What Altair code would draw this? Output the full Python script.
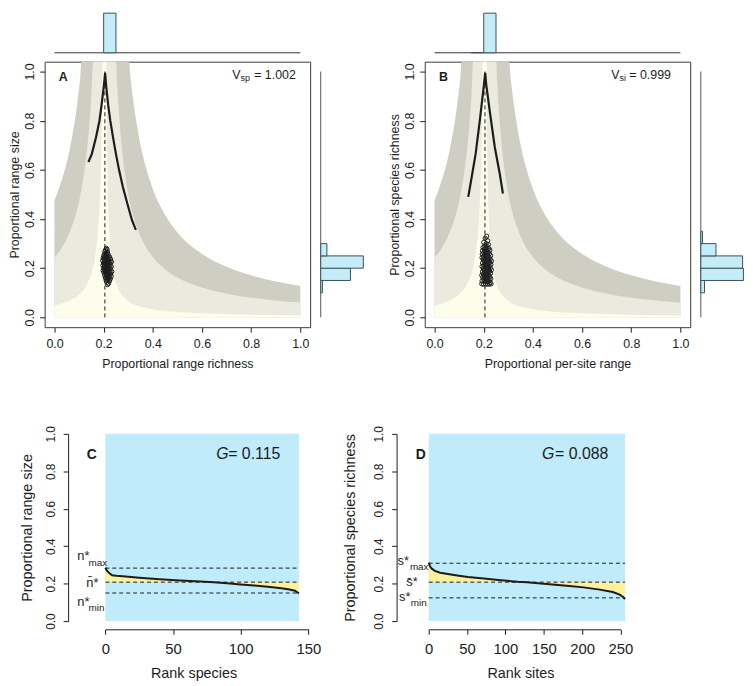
import altair as alt
import pandas as pd

FONT = "Liberation Sans"
INK = "#1c1c1c"
BOX = "#3a3a3a"
DARK_BAND = "#CECEC3"
LIGHT_BAND = "#EAEADE"
PALE_BAND = "#FDFDEC"
HIST_FILL = "#C4ECF9"
HIST_LINE = "#3C5157"
BLUE_BG = "#BFEBFA"
YELLOW = "#FBF09C"

# ---------------- data ----------------
# Panels A/B: upper edge of each shaded band (1.04 = top of the box)
outer_x = [0.0, 0.02, 0.04, 0.06, 0.08, 0.09, 0.10, 0.105, 0.109, 0.20, 0.303, 0.31, 0.32, 0.335, 0.35, 0.375, 0.40, 0.45, 0.50, 0.60, 0.70, 0.80, 0.90, 1.0]
outer_y = [0.477, 0.529, 0.593, 0.674, 0.782, 0.850, 0.931, 0.978, 1.04, 1.04, 1.04, 0.970, 0.885, 0.783, 0.702, 0.599, 0.522, 0.416, 0.345, 0.258, 0.206, 0.171, 0.146, 0.128]
middle_x = [0.0, 0.03, 0.06, 0.09, 0.11, 0.12, 0.13, 0.14, 0.15, 0.157, 0.20, 0.251, 0.255, 0.26, 0.27, 0.28, 0.30, 0.325, 0.35, 0.40, 0.45, 0.50, 0.60, 0.70, 0.80, 0.90, 1.0]
middle_y = [0.242, 0.283, 0.342, 0.431, 0.522, 0.584, 0.661, 0.763, 0.902, 1.04, 1.04, 1.04, 0.954, 0.867, 0.734, 0.636, 0.502, 0.398, 0.329, 0.245, 0.195, 0.162, 0.121, 0.096, 0.080, 0.069, 0.060]
inner_x = [0.0, 0.05, 0.10, 0.13, 0.15, 0.165, 0.175, 0.183, 0.19, 0.1945, 0.1955, 0.211, 0.2125, 0.215, 0.22, 0.23, 0.24, 0.26, 0.30, 0.35, 0.40, 0.50, 0.60, 0.80, 1.0]
inner_y = [0.048, 0.0635, 0.094, 0.131, 0.179, 0.246, 0.328, 0.447, 0.656, 0.937, 1.04, 1.04, 0.853, 0.640, 0.427, 0.256, 0.183, 0.116, 0.067, 0.044, 0.033, 0.0217, 0.0162, 0.0108, 0.008]

# Panel A
meanA = 0.205
curveA_x = [0.138, 0.152, 0.169, 0.183, 0.192, 0.200, 0.206, 0.211, 0.218, 0.227, 0.238, 0.250, 0.263, 0.278, 0.296, 0.315, 0.331]
curveA_y = [0.632, 0.665, 0.733, 0.800, 0.867, 0.934, 0.995, 0.934, 0.867, 0.800, 0.733, 0.665, 0.598, 0.531, 0.464, 0.396, 0.356]
ptsA = [(0.211, 0.281), (0.214, 0.276), (0.208, 0.274),
        (0.205, 0.268), (0.216, 0.266), (0.211, 0.263),
        (0.203, 0.258), (0.213, 0.257), (0.219, 0.255), (0.208, 0.254),
        (0.200, 0.250), (0.210, 0.249), (0.217, 0.247), (0.224, 0.246), (0.205, 0.245),
        (0.198, 0.241), (0.207, 0.240), (0.214, 0.239), (0.221, 0.238), (0.228, 0.237), (0.202, 0.236),
        (0.196, 0.231), (0.204, 0.230), (0.211, 0.229), (0.219, 0.228), (0.226, 0.227), (0.232, 0.226), (0.209, 0.225),
        (0.199, 0.221), (0.206, 0.220), (0.213, 0.219), (0.220, 0.218), (0.227, 0.217), (0.202, 0.216), (0.216, 0.215),
        (0.197, 0.211), (0.204, 0.210), (0.211, 0.209), (0.218, 0.208), (0.225, 0.207), (0.231, 0.206), (0.208, 0.205),
        (0.200, 0.201), (0.207, 0.200), (0.214, 0.199), (0.221, 0.198), (0.228, 0.197), (0.203, 0.196), (0.217, 0.195),
        (0.198, 0.191), (0.205, 0.190), (0.212, 0.189), (0.219, 0.188), (0.226, 0.187), (0.233, 0.186), (0.209, 0.185),
        (0.201, 0.181), (0.208, 0.180), (0.215, 0.179), (0.222, 0.178), (0.229, 0.177), (0.212, 0.175),
        (0.204, 0.171), (0.211, 0.170), (0.218, 0.169), (0.225, 0.168), (0.231, 0.166),
        (0.207, 0.161), (0.214, 0.160), (0.221, 0.158), (0.227, 0.156),
        (0.210, 0.151), (0.217, 0.150), (0.224, 0.148),
        (0.213, 0.142), (0.220, 0.138), (0.216, 0.133)]
topA_lo, topA_hi, topA_n = [0.20], [0.25], [143]
rightA_lo = [0.10, 0.15, 0.20, 0.25]
rightA_hi = [0.15, 0.20, 0.25, 0.30]
rightA_n = [3, 53, 76, 11]

# Panel B
meanB = 0.205
curveB_x = [0.137, 0.150, 0.167, 0.184, 0.198, 0.206, 0.210, 0.225, 0.245, 0.265, 0.278]
curveB_y = [0.490, 0.565, 0.665, 0.800, 0.921, 0.995, 0.948, 0.835, 0.692, 0.585, 0.504]
ptsB = [(0.212, 0.330), (0.206, 0.322), (0.216, 0.312), (0.200, 0.305), (0.210, 0.300), (0.219, 0.296), (0.204, 0.291), (0.214, 0.288),
        (0.197, 0.284), (0.208, 0.282), (0.221, 0.280), (0.202, 0.277), (0.214, 0.275), (0.225, 0.273), (0.195, 0.271),
        (0.206, 0.268), (0.217, 0.266), (0.200, 0.263), (0.211, 0.261), (0.223, 0.259), (0.194, 0.257), (0.205, 0.255), (0.216, 0.253), (0.228, 0.251),
        (0.199, 0.249), (0.210, 0.247), (0.221, 0.245), (0.193, 0.243), (0.204, 0.241), (0.215, 0.239), (0.226, 0.237), (0.198, 0.235), (0.209, 0.233), (0.220, 0.231),
        (0.231, 0.229), (0.203, 0.227), (0.214, 0.225), (0.225, 0.223), (0.195, 0.221), (0.207, 0.219), (0.218, 0.217), (0.229, 0.215), (0.200, 0.213), (0.211, 0.211),
        (0.222, 0.209), (0.193, 0.207), (0.205, 0.205), (0.216, 0.203), (0.227, 0.201), (0.198, 0.199), (0.209, 0.197), (0.220, 0.195), (0.231, 0.193), (0.202, 0.191),
        (0.213, 0.189), (0.224, 0.187), (0.195, 0.185), (0.206, 0.183), (0.217, 0.181), (0.228, 0.179), (0.199, 0.177), (0.210, 0.175), (0.221, 0.173), (0.192, 0.171),
        (0.203, 0.169), (0.214, 0.167), (0.225, 0.165), (0.196, 0.163), (0.207, 0.161), (0.218, 0.159), (0.229, 0.157), (0.200, 0.155), (0.211, 0.153), (0.222, 0.151),
        (0.193, 0.148), (0.204, 0.146), (0.215, 0.144), (0.226, 0.142), (0.192, 0.136), (0.199, 0.135), (0.207, 0.135), (0.215, 0.135), (0.223, 0.135), (0.230, 0.136)]
topB_lo, topB_hi, topB_n = [0.15, 0.20], [0.20, 0.25], [2, 254]
rightB_lo = [0.10, 0.15, 0.20, 0.25, 0.30]
rightB_hi = [0.15, 0.20, 0.25, 0.30, 0.35]
rightB_n = [9, 104, 102, 37, 4]

# Panel C
rank_c = [0, 1, 3, 5, 8, 15, 25, 40, 55, 70, 80, 90, 100, 110, 120, 130, 135, 140, 143]
val_c = [0.285, 0.270, 0.255, 0.245, 0.242, 0.238, 0.232, 0.224, 0.217, 0.211, 0.207, 0.202, 0.196, 0.190, 0.183, 0.175, 0.170, 0.162, 0.148]
n_species = 143
nstar = [0.283, 0.208, 0.150]   # max, mean, min
G_c = "= 0.115"

# Panel D
rank_d = [0, 2, 4, 8, 15, 21, 35, 51, 72, 94, 116, 128, 150, 180, 202, 223, 240, 249, 253, 256]
val_d = [0.312, 0.290, 0.280, 0.268, 0.258, 0.254, 0.245, 0.236, 0.227, 0.218, 0.210, 0.207, 0.199, 0.189, 0.180, 0.168, 0.155, 0.141, 0.130, 0.118]
n_sites = 256
sstar = [0.309, 0.208, 0.124]
G_d = "= 0.088"

TICKS01 = [0.0, 0.2, 0.4, 0.6, 0.8, 1.0]

# ---------------- layout (pixels) ----------------
SIDE = 268
DOM = [-0.04, 1.04]
COL_GAP = 115.7
ROW_GAP = 107.7
CD_H = 189
C_RANGE = [61.3, 266.3]     # x = 0 .. 150 inside the C cell
D_RANGE = [4.0, 197.6]      # x = 0 .. 250 inside the D cell
TOP_GAP, TOP_LEN = 9, 40
RIGHT_GAP, RIGHT_LEN = 10.7, 43


def note(text, x, y, size, align="left", weight="normal", style="normal", baseline="alphabetic"):
    return alt.Chart(pd.DataFrame({"t": [text]})).mark_text(
        align=align, baseline=baseline, fontSize=size, fontWeight=weight,
        fontStyle=style, font=FONT, color=INK
    ).encode(x=alt.value(x), y=alt.value(y), text="t:N")


def ab_panel(curve_x, curve_y, pts, mean_x, xtitle, ytitle, notes,
             top_lo, top_hi, top_n, r_lo, r_hi, r_n):
    sx = alt.Scale(domain=DOM, nice=False, zero=False)
    sy = alt.Scale(domain=DOM, nice=False, zero=False)
    ax = alt.Axis(values=TICKS01, format=".1f", title=xtitle, tickSize=5,
                  labelPadding=5.5, titlePadding=8, labelFontSize=12.5,
                  titleFontSize=12.5, domain=False, labelFlush=False)
    ay = alt.Axis(values=TICKS01, format=".1f", title=ytitle, tickSize=5,
                  labelPadding=3, titlePadding=2, labelFontSize=12.5,
                  titleFontSize=12.5, labelAngle=-90, labelAlign="center",
                  labelBaseline="bottom", domain=False, labelFlush=False)

    def X(f):
        return alt.X(f, type="quantitative", scale=sx, axis=ax)

    def Y(f):
        return alt.Y(f, type="quantitative", scale=sy, axis=ay)

    def band(xv, yv, color):
        return alt.Chart(pd.DataFrame({"x": xv, "y": yv})).mark_area(
            color=color, interpolate="monotone").encode(x=X("x"), y=Y("y"), y2=alt.datum(0))

    vline = alt.Chart(pd.DataFrame({"x": [mean_x], "y0": [0.0], "y1": [1.0]})).mark_rule(
        color=INK, strokeDash=[4, 3], strokeWidth=1).encode(x=X("x"), y=Y("y0"), y2="y1")
    curve = alt.Chart(pd.DataFrame({"x": curve_x, "y": curve_y})).mark_line(
        color=INK, strokeWidth=2.2).encode(x=X("x"), y=Y("y"))
    points = alt.Chart(pd.DataFrame(pts, columns=["x", "y"])).mark_point(
        shape="circle", filled=False, color=INK, size=18, strokeWidth=1, opacity=1
    ).encode(x=X("x"), y=Y("y"))
    main = alt.layer(band(outer_x, outer_y, DARK_BAND), band(middle_x, middle_y, LIGHT_BAND),
                     band(inner_x, inner_y, PALE_BAND), vline, curve, points, *notes)

    # top marginal histogram (own count scale placed above the box)
    M = max(top_n)
    ty = alt.Scale(domain=[-(SIDE + TOP_GAP) * M / TOP_LEN, -TOP_GAP * M / TOP_LEN], nice=False, zero=False)
    tx = alt.Scale(domain=DOM, nice=False, zero=False)
    tbase = alt.Chart(pd.DataFrame({"a": [0.0], "b": [1.0], "c": [0]})).mark_rule(
        color="#333333", strokeWidth=1).encode(
        x=alt.X("a:Q", scale=tx, axis=None), x2="b", y=alt.Y("c:Q", scale=ty, axis=None))
    tbars = alt.Chart(pd.DataFrame({"lo": top_lo, "hi": top_hi, "n": top_n})).mark_rect(
        fill=HIST_FILL, stroke=HIST_LINE, strokeWidth=1).encode(
        x=alt.X("lo:Q", scale=tx, axis=None), x2="hi",
        y=alt.Y("n:Q", scale=ty, axis=None), y2=alt.datum(0))
    top = alt.layer(tbase, tbars)

    # right marginal histogram
    R = max(r_n)
    p0 = SIDE + RIGHT_GAP
    rx = alt.Scale(domain=[-p0 * R / RIGHT_LEN, (SIDE - p0) * R / RIGHT_LEN], nice=False, zero=False)
    ry = alt.Scale(domain=DOM, nice=False, zero=False)
    rbase = alt.Chart(pd.DataFrame({"a": [0.0], "b": [1.0], "c": [0]})).mark_rule(
        color="#555555", strokeWidth=1).encode(
        y=alt.Y("a:Q", scale=ry, axis=None), y2="b", x=alt.X("c:Q", scale=rx, axis=None))
    rbars = alt.Chart(pd.DataFrame({"lo": r_lo, "hi": r_hi, "n": r_n})).mark_rect(
        fill=HIST_FILL, stroke=HIST_LINE, strokeWidth=1).encode(
        y=alt.Y("lo:Q", scale=ry, axis=None), y2="hi",
        x=alt.X("n:Q", scale=rx, axis=None), x2=alt.datum(0))
    right = alt.layer(rbase, rbars)

    return alt.layer(main, top, right).resolve_scale(
        x="independent", y="independent").properties(
        width=SIDE, height=SIDE, view=alt.ViewBackground(stroke=BOX, strokeWidth=1))


def rank_panel(rank, val, n_units, stars, xmax, xticks, xrange, xtitle, ytitle,
               yoff, ytp, title_x, notes):
    sx = alt.Scale(domain=[0, xmax], range=xrange, nice=False, zero=False)
    sy = alt.Scale(domain=[0, 1], nice=False, zero=False)
    ax = alt.Axis(values=xticks, format="d", title=xtitle, tickSize=5, labelPadding=7.5,
                  titlePadding=10, labelFontSize=15, titleFontSize=14.5, offset=8.3,
                  titleX=title_x, labelFlush=False)
    ay = alt.Axis(values=TICKS01, format=".1f", title=ytitle, tickSize=5, labelPadding=6,
                  titlePadding=ytp, labelFontSize=12, titleFontSize=14.5, offset=yoff,
                  labelAngle=-90, labelAlign="center", labelBaseline="bottom",
                  labelFlush=False)

    def X(f):
        return alt.X(f, type="quantitative", scale=sx, axis=ax)

    def Y(f):
        return alt.Y(f, type="quantitative", scale=sy, axis=ay)

    bg = alt.Chart(pd.DataFrame({"x0": [0], "x1": [n_units], "y0": [0.0], "y1": [1.0]})).mark_rect(
        fill=BLUE_BG).encode(x=X("x0"), x2="x1", y=Y("y0"), y2="y1")
    df = pd.DataFrame({"r": rank, "v": val})
    fill = alt.Chart(df).mark_area(color=YELLOW).encode(x=X("r"), y=Y("v"), y2=alt.datum(stars[1]))
    rules = alt.Chart(pd.DataFrame({"y": stars, "x0": [0] * 3, "x1": [n_units] * 3})).mark_rule(
        color=INK, strokeDash=[4, 3], strokeWidth=1).encode(x=X("x0"), x2="x1", y=Y("y"))
    line = alt.Chart(df).mark_line(color=INK, strokeWidth=2).encode(x=X("r"), y=Y("v"))
    return alt.layer(bg, fill, rules, line, *notes).properties(width=SIDE, height=CD_H)


A = ab_panel(curveA_x, curveA_y, ptsA, meanA,
             "Proportional range richness", "Proportional range size",
             [note("A", 14.3, 19, 12.5, weight="bold"),
              note("V", 189.3, 17, 12.5), note("sp", 197.7, 19.5, 9),
              note("= 1.002", 211.5, 17, 12.5)],
             topA_lo, topA_hi, topA_n, rightA_lo, rightA_hi, rightA_n)

B = ab_panel(curveB_x, curveB_y, ptsB, meanB,
             "Proportional per-site range", "Proportional species richness",
             [note("B", 14.3, 19, 12.5, weight="bold"),
              note("V", 188.3, 17, 12.5), note("si", 196.6, 19.5, 9),
              note("= 0.999", 206.5, 17, 12.5)],
             topB_lo, topB_hi, topB_n, rightB_lo, rightB_hi, rightB_n)

C = rank_panel(rank_c, val_c, n_species, nstar, 150, [0, 50, 100, 150], C_RANGE,
               "Rank species", "Proportional range size", -23.7, 9.5, 150.3,
               [note("C", 47.5, 25.6, 14, align="center", weight="bold"),
                note("G", 173.3, 25.6, 16, style="italic"), note(G_c, 185.3, 25.6, 16),
                note("n*", 33, 127.3, 13), note("max", 44.3, 133, 10),
                note("n\u0304*", 42, 155, 13),
                note("n*", 33, 173.3, 13), note("min", 44.3, 179.3, 10)])

D = rank_panel(rank_d, val_d, n_sites, sstar, 250, [0, 50, 100, 150, 200, 250], D_RANGE,
               "Rank sites", "Proportional species richness", 28.4, 15.5, 96.6,
               [note("D", -4, 25.6, 14, align="center", weight="bold"),
                note("G", 118.3, 25.6, 16, style="italic"), note(G_d, 131.6, 25.6, 16),
                note("s*", -27.4, 132.3, 13), note("max", -15, 137.3, 10),
                note("s\u0304*", -18.7, 154, 13),
                note("s*", -26, 169, 13), note("min", -14, 174, 10)])

chart = alt.concat(A, B, C, D, columns=2, spacing={"row": ROW_GAP, "column": COL_GAP},
                   bounds="flush", align="all").properties(
    padding={"left": 0, "top": 0, "right": 0, "bottom": 0}, background="white"
).configure_view(stroke="transparent").configure_axis(
    labelFont=FONT, titleFont=FONT, labelColor=INK, titleColor=INK, tickColor=INK,
    domainColor=INK, grid=False, titleFontWeight="normal", tickWidth=1, domainWidth=1
)

chart.save("out.html", embed_options={"renderer": "svg", "actions": False})
